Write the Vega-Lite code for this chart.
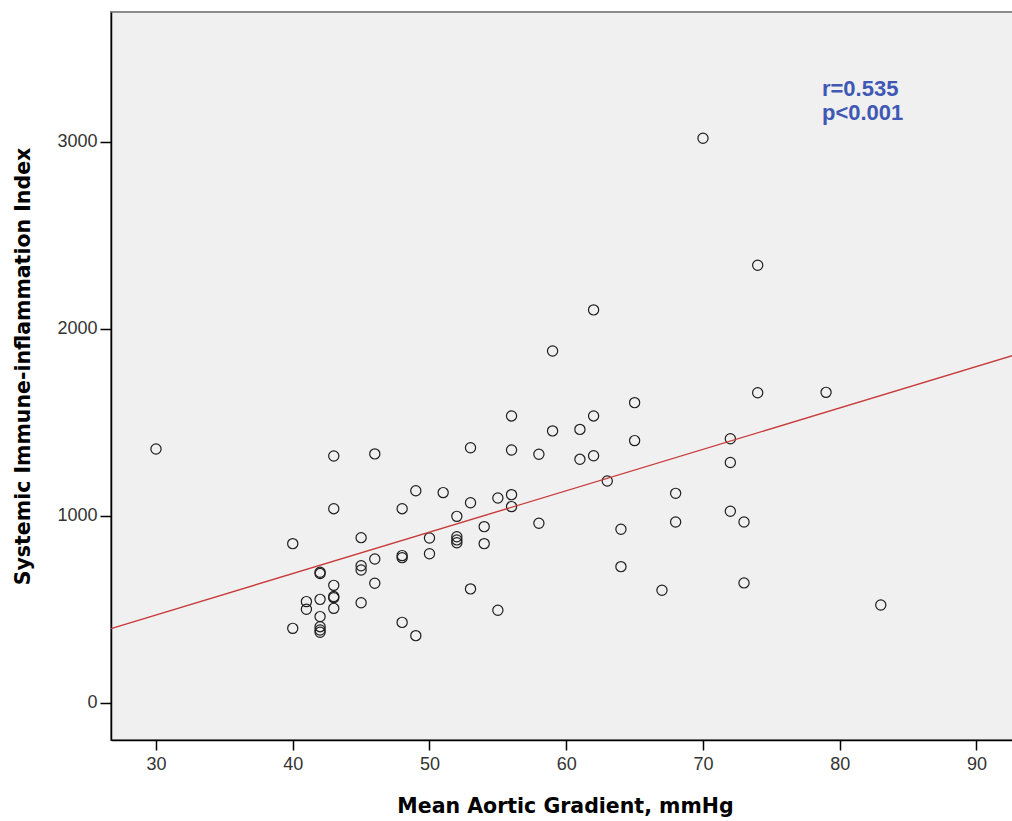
{
  "$schema": "https://vega.github.io/schema/vega-lite/v6.json",
  "autosize": "none",
  "width": 902,
  "height": 728,
  "padding": {"left": 111, "top": 12, "right": 0, "bottom": 81},
  "background": "white",
  "config": {
    "view": {"fill": "#f0f0f0", "stroke": "#8c8c8c", "strokeWidth": 2},
    "axis": {
      "grid": false,
      "domainColor": "#000000",
      "domainWidth": 1.5,
      "tickColor": "#000000",
      "tickWidth": 1.5,
      "tickSize": 10,
      "labelFont": "Liberation Sans",
      "labelFontSize": 18,
      "labelColor": "#333333",
      "titleFont": "DejaVu Sans",
      "titleFontWeight": "bold",
      "titleFontSize": 20.5,
      "titleColor": "#000000"
    }
  },
  "datasets": {
    "patients": [
      {"mag": 30, "sii": 1358}, {"mag": 40, "sii": 852}, {"mag": 40, "sii": 399},
      {"mag": 41, "sii": 542}, {"mag": 41, "sii": 501},
      {"mag": 42, "sii": 699}, {"mag": 42, "sii": 692}, {"mag": 42, "sii": 554},
      {"mag": 42, "sii": 462}, {"mag": 42, "sii": 408}, {"mag": 42, "sii": 390}, {"mag": 42, "sii": 378},
      {"mag": 43, "sii": 1321}, {"mag": 43, "sii": 1039}, {"mag": 43, "sii": 629},
      {"mag": 43, "sii": 569}, {"mag": 43, "sii": 563}, {"mag": 43, "sii": 506},
      {"mag": 45, "sii": 884}, {"mag": 45, "sii": 734}, {"mag": 45, "sii": 711}, {"mag": 45, "sii": 536},
      {"mag": 46, "sii": 1332}, {"mag": 46, "sii": 770}, {"mag": 46, "sii": 640},
      {"mag": 48, "sii": 1039}, {"mag": 48, "sii": 788}, {"mag": 48, "sii": 777}, {"mag": 48, "sii": 431},
      {"mag": 49, "sii": 1135}, {"mag": 49, "sii": 360},
      {"mag": 50, "sii": 882}, {"mag": 50, "sii": 798},
      {"mag": 51, "sii": 1125},
      {"mag": 52, "sii": 998}, {"mag": 52, "sii": 889}, {"mag": 52, "sii": 872}, {"mag": 52, "sii": 857},
      {"mag": 53, "sii": 1365}, {"mag": 53, "sii": 1071}, {"mag": 53, "sii": 610},
      {"mag": 54, "sii": 943}, {"mag": 54, "sii": 852},
      {"mag": 55, "sii": 1096}, {"mag": 55, "sii": 496},
      {"mag": 56, "sii": 1535}, {"mag": 56, "sii": 1353}, {"mag": 56, "sii": 1114}, {"mag": 56, "sii": 1050},
      {"mag": 58, "sii": 1330}, {"mag": 58, "sii": 961},
      {"mag": 59, "sii": 1882}, {"mag": 59, "sii": 1455},
      {"mag": 61, "sii": 1463}, {"mag": 61, "sii": 1303},
      {"mag": 62, "sii": 2102}, {"mag": 62, "sii": 1535}, {"mag": 62, "sii": 1322},
      {"mag": 63, "sii": 1187},
      {"mag": 64, "sii": 929}, {"mag": 64, "sii": 729},
      {"mag": 65, "sii": 1606}, {"mag": 65, "sii": 1403},
      {"mag": 67, "sii": 603},
      {"mag": 68, "sii": 1121}, {"mag": 68, "sii": 968},
      {"mag": 70, "sii": 3020},
      {"mag": 72, "sii": 1413}, {"mag": 72, "sii": 1286}, {"mag": 72, "sii": 1025},
      {"mag": 73, "sii": 968}, {"mag": 73, "sii": 642},
      {"mag": 74, "sii": 2341}, {"mag": 74, "sii": 1659},
      {"mag": 79, "sii": 1661},
      {"mag": 83, "sii": 524}
    ],
    "fitLine": [
      {"mag": 26.71, "sii": 398},
      {"mag": 92.67, "sii": 1858}
    ],
    "stats": [
      {"mag": 78.7, "sii": 3246, "label": "r=0.535"},
      {"mag": 78.7, "sii": 3118, "label": "p<0.001"}
    ]
  },
  "layer": [
    {
      "data": {"name": "patients"},
      "mark": {"type": "point", "shape": "circle", "filled": false, "size": 104, "stroke": "#1e1e1e", "strokeWidth": 1.2, "opacity": 1},
      "encoding": {
        "x": {
          "field": "mag", "type": "quantitative",
          "scale": {"domain": [26.71, 92.67], "nice": false, "zero": false},
          "axis": {
            "title": "Mean Aortic Gradient, mmHg",
            "values": [30, 40, 50, 60, 70, 80, 90],
            "labelPadding": 5,
            "titleX": 454, "titleY": 72,
            "titleAlign": "center", "titleBaseline": "alphabetic"
          }
        },
        "y": {
          "field": "sii", "type": "quantitative",
          "scale": {"domain": [-198, 3695], "nice": false, "zero": false},
          "axis": {
            "title": "Systemic Immune-inflammation Index",
            "values": [0, 1000, 2000, 3000],
            "format": "d",
            "tickSize": 11,
            "labelPadding": 3,
            "titleX": -82, "titleY": 354,
            "titleAngle": -90,
            "titleAlign": "center", "titleBaseline": "alphabetic"
          }
        }
      }
    },
    {
      "data": {"name": "fitLine"},
      "mark": {"type": "line", "color": "#c83a3a", "strokeWidth": 1.4},
      "encoding": {
        "x": {"field": "mag", "type": "quantitative"},
        "y": {"field": "sii", "type": "quantitative"}
      }
    },
    {
      "data": {"name": "stats"},
      "mark": {"type": "text", "align": "left", "baseline": "alphabetic", "font": "Liberation Sans", "fontSize": 22, "fontWeight": "bold", "color": "#3f58b4"},
      "encoding": {
        "x": {"field": "mag", "type": "quantitative"},
        "y": {"field": "sii", "type": "quantitative"},
        "text": {"field": "label"}
      }
    }
  ]
}
